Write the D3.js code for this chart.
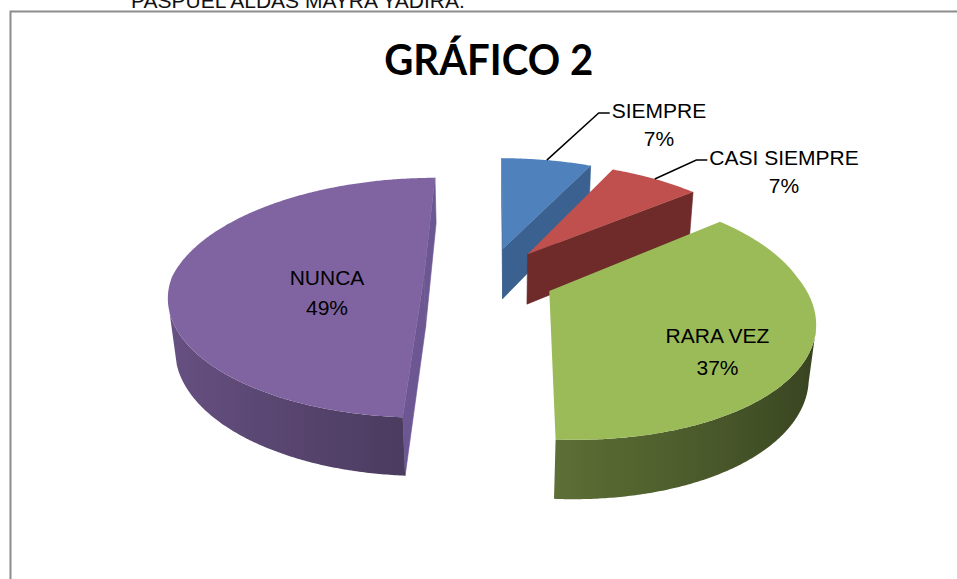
<!DOCTYPE html>
<html>
<head>
<meta charset="utf-8">
<script src="https://cdn.jsdelivr.net/npm/d3@7"></script>
<style>
body{margin:0;background:#fff}
svg{display:block}
</style>
</head>
<body>
<div id="chart"></div>
<script>
// data
const categories=['SIEMPRE','CASI SIEMPRE','RARA VEZ','NUNCA'];
const values=[7,7,37,49];
const pctLabels=['7%','7%','37%','49%'];
const title='GRÁFICO 2';
const headerText='PASPUEL ALDAS MAYRA YADIRA.';

// styles
const topColors=['#4F81BD','#C0504D','#9BBB59','#8064A2'];
const cutColors=['#3A6190','#6E2B2A','#56692F','#6C5793'];

const width=957, height=579;

// 3d view
const cx=496, cy=277.1;
const R=252, depth=59, explode=65, pieX=-7.1;
const phi=27.5*Math.PI/180, dist=1241.8;
const skew=0.045; // front half leans right a little, like the excel render
const eye=[0, dist*Math.sin(phi), -dist*Math.cos(phi)];

function project(X,Y,Z){
	if(Z<0) X+=skew*(-Z);
	const yc=Y*Math.cos(phi)+Z*Math.sin(phi);
	const zc=Z*Math.cos(phi)-Y*Math.sin(phi);
	const s=dist/(dist+zc);
	return [cx+X*s, cy-yc*s];
}

const svg=d3.select('#chart')
	.append('svg')
	.attr('width',width)
	.attr('height',height)
const defs=svg.append('defs');

// frame + cut header
svg.append('text')
	.attr('x',131)
	.attr('y',7.5)
	.attr('font-family','"Liberation Sans", Arial, sans-serif')
	.attr('font-size',21)
	.attr('fill','#111')
	.text(headerText)
svg.append('path')
	.attr('d','M10.5,'+height+'V11.5H'+width)
	.attr('fill','none')
	.attr('stroke','#8c8c8c')
	.attr('stroke-width',2)

svg.append('text')
	.attr('x',488.7)
	.attr('y',75)
	.attr('text-anchor','middle')
	.attr('font-family','Lato, "Liberation Sans", sans-serif')
	.attr('font-weight','bold')
	.attr('font-size',42)
	.attr('textLength',209)
	.attr('lengthAdjust','spacingAndGlyphs')
	.attr('fill','#000')
	.text(title)

const arcs=d3.pie().sort(null).value(d=>d)(values);
const slices=arcs.map((a,i)=>{
	const m=(a.startAngle+a.endAngle)/2;
	return {...a, i:i, m:m, ox:pieX+explode*Math.sin(m), oz:explode*Math.cos(m)};
});

function pt(s,theta,r,Y){
	return project(s.ox+r*Math.sin(theta), Y, s.oz+r*Math.cos(theta));
}
function visible(n,p){
	return n[0]*(eye[0]-p[0])+n[1]*(eye[1]-p[1])+n[2]*(eye[2]-p[2])>0;
}
function shade(c,b){
	const r=d3.rgb(c);
	return d3.rgb(r.r*b,r.g*b,r.b*b).formatHex();
}
const bright=nx=>0.58-0.24*nx;
const line=d3.line();

const pieG=svg.append('g');
slices.slice().sort((a,b)=>b.oz-a.oz).forEach(s=>{
	const g=pieG.append('g');
	const a0=s.startAngle, a1=s.endAngle;

	// radial cut faces
	const faces=[
		{th:a0, n:[-Math.cos(a0),0,Math.sin(a0)]},
		{th:a1, n:[Math.cos(a1),0,-Math.sin(a1)]}
	];
	faces.forEach(f=>{
		const mid=[s.ox+R/2*Math.sin(f.th), -depth/2, s.oz+R/2*Math.cos(f.th)];
		if(!visible(f.n,mid)) return;
		const pts=[pt(s,f.th,0,0),pt(s,f.th,R,0),pt(s,f.th,R,-depth),pt(s,f.th,0,-depth)];
		g.append('path')
			.attr('d',line(pts)+'Z')
			.attr('fill',cutColors[s.i])
			.attr('stroke',cutColors[s.i])
			.attr('stroke-width',0.6)
	});

	// outer wall, only the part facing the eye
	const N=Math.max(8,Math.ceil((a1-a0)/(Math.PI/360)));
	const ths=d3.range(N+1).map(k=>a0+(a1-a0)*k/N);
	const spans=[];
	let cur=null;
	ths.forEach(t=>{
		const n=[Math.sin(t),0,Math.cos(t)];
		const p=[s.ox+R*n[0],-depth/2,s.oz+R*n[2]];
		if(visible(n,p)){
			if(!cur){cur=[];spans.push(cur);}
			cur.push(t);
		} else cur=null;
	});
	spans.filter(sp=>sp.length>1).forEach((sp,j)=>{
		const topPts=sp.map(t=>pt(s,t,R,0));
		const botPts=sp.map(t=>pt(s,t,R,-depth)).reverse();
		const xs=topPts.map(p=>p[0]);
		const x0=d3.min(xs), x1=d3.max(xs);
		const id='side'+s.i+'_'+j;
		const grad=defs.append('linearGradient')
			.attr('id',id)
			.attr('gradientUnits','userSpaceOnUse')
			.attr('x1',x0).attr('x2',x1).attr('y1',0).attr('y2',0)
		sp.map((t,k)=>({off:(topPts[k][0]-x0)/Math.max(1,x1-x0), c:shade(topColors[s.i],bright(Math.sin(t)))}))
			.filter((d,k)=>k%4==0||k==sp.length-1)
			.sort((a,b)=>a.off-b.off)
			.forEach(st=>grad.append('stop').attr('offset',st.off).attr('stop-color',st.c))
		g.append('path')
			.attr('d',line(topPts.concat(botPts))+'Z')
			.attr('fill','url(#'+id+')')
	});

	// top face
	const topArc=ths.map(t=>pt(s,t,R,0));
	g.append('path')
		.attr('d',line([pt(s,0,0,0)].concat(topArc))+'Z')
		.attr('fill',topColors[s.i])
});

// labels
const labelFont='"Liberation Sans", Arial, sans-serif';
const labelPos=[[659,118,28],[784,165,28],[717.5,343,32],[327,285,30]];
const outside=[true,true,false,false];

slices.forEach(s=>{
	const lp=labelPos[s.i];
	const t1=svg.append('text')
		.attr('x',lp[0]).attr('y',lp[1])
		.attr('text-anchor','middle')
		.attr('font-family',labelFont)
		.attr('font-size',21)
		.attr('fill','#000')
		.text(categories[s.i])
	svg.append('text')
		.attr('x',lp[0]).attr('y',lp[1]+lp[2])
		.attr('text-anchor','middle')
		.attr('font-family',labelFont)
		.attr('font-size',21)
		.attr('fill','#000')
		.text(pctLabels[s.i])
	if(outside[s.i]){
		const left=lp[0]-t1.node().getComputedTextLength()/2;
		const rim=pt(s,s.m,R,0);
		svg.append('path')
			.attr('d',line([rim,[left-13,lp[1]-5],[left-2,lp[1]-5]]))
			.attr('fill','none')
			.attr('stroke','#000')
			.attr('stroke-width',1.5)
	}
});
</script>
</body>
</html>
